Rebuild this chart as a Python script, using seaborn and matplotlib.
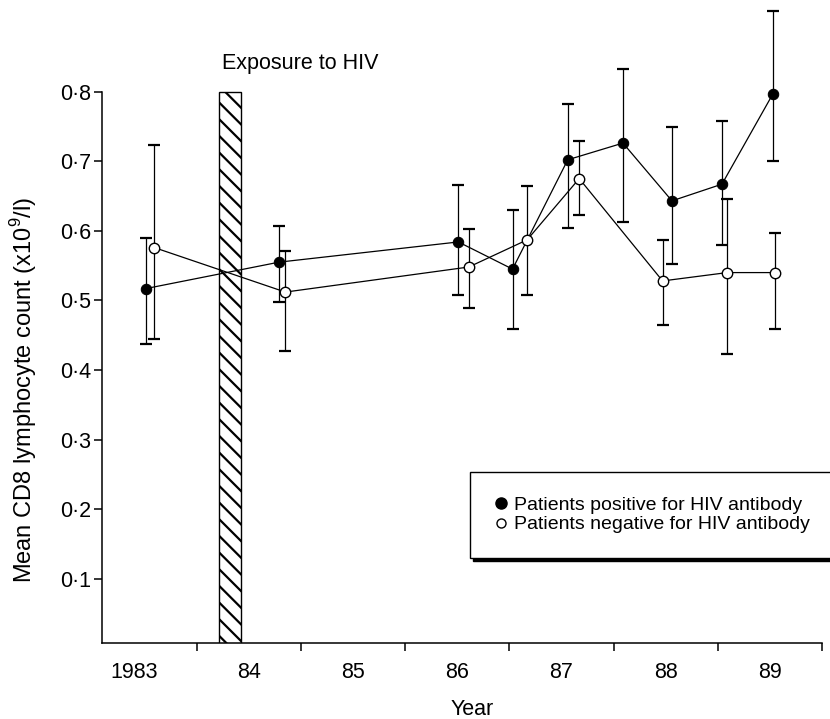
import pandas as pd
import seaborn as sns
import matplotlib.pyplot as plt
from matplotlib.lines import Line2D

# Values (year position, mean, error bar ends)
pos_year = [1983.51, 1984.79, 1986.51, 1987.03, 1987.56, 1988.09, 1988.56, 1989.04, 1989.53]
pos_mean = [0.517, 0.555, 0.584, 0.545, 0.702, 0.726, 0.643, 0.667, 0.797]
pos_low = [0.438, 0.498, 0.508, 0.459, 0.604, 0.613, 0.553, 0.580, 0.700]
pos_high = [0.590, 0.607, 0.666, 0.630, 0.782, 0.833, 0.749, 0.757, 0.915]

neg_year = [1983.59, 1984.85, 1986.61, 1987.17, 1987.67, 1988.47, 1989.09, 1989.55]
neg_mean = [0.576, 0.512, 0.548, 0.587, 0.675, 0.528, 0.540, 0.540]
neg_low = [0.445, 0.428, 0.489, 0.508, 0.623, 0.465, 0.423, 0.459]
neg_high = [0.723, 0.571, 0.603, 0.665, 0.729, 0.587, 0.646, 0.597]

year_ticks = [1984, 1985, 1986, 1987, 1988, 1989, 1990]
year_labels = ['1983', '84', '85', '86', '87', '88', '89']
year_label_pos = [1983.4, 1984.5, 1985.5, 1986.5, 1987.5, 1988.5, 1989.5]

y_ticks = [0.1, 0.2, 0.3, 0.4, 0.5, 0.6, 0.7, 0.8]
y_tick_labels = ['0·1', '0·2', '0·3', '0·4', '0·5', '0·6', '0·7', '0·8']

exposure_start = 1984.21
exposure_end = 1984.42
exposure_top = 0.8

pos_df = pd.DataFrame({'year': pos_year, 'mean': pos_mean})
neg_df = pd.DataFrame({'year': neg_year, 'mean': neg_mean})

sns.set_style('ticks')
plt.rcParams['font.family'] = ['Liberation Sans', 'DejaVu Sans']
plt.rcParams['mathtext.fontset'] = 'custom'
plt.rcParams['mathtext.rm'] = 'Liberation Sans'
plt.rcParams['hatch.linewidth'] = 1.6
plt.rcParams['text.color'] = 'black'
plt.rcParams['axes.labelcolor'] = 'black'
plt.rcParams['axes.edgecolor'] = 'black'
plt.rcParams['xtick.color'] = 'black'
plt.rcParams['ytick.color'] = 'black'

fig = plt.figure(figsize=(8.3, 7.19), dpi=100)
ax = fig.add_axes([102 / 830, 1 - 643 / 719, 720 / 830, 635 / 719])

# Exposure bar
ax.bar(
    exposure_start,
    exposure_top,
    width=exposure_end - exposure_start,
    align='edge',
    color='white',
    edgecolor='black',
    hatch='\\\\',
    linewidth=1,
    zorder=1
)

ax.text(
    exposure_start + 0.03,
    0.841,
    'Exposure to HIV',
    fontsize=15.5,
    va='center',
    ha='left'
)

# Error bars
for yr, m, lo, hi in [(pos_year, pos_mean, pos_low, pos_high),
                      (neg_year, neg_mean, neg_low, neg_high)]:
    ax.errorbar(
        yr,
        m,
        yerr=[[a - b for a, b in zip(m, lo)], [b - a for a, b in zip(m, hi)]],
        fmt='none',
        ecolor='black',
        elinewidth=0.9,
        capsize=4,
        capthick=1.6,
        zorder=2
    )

# Lines
sns.lineplot(
    data=pos_df,
    x='year',
    y='mean',
    color='black',
    linewidth=0.9,
    marker='o',
    markersize=7.5,
    markerfacecolor='black',
    markeredgecolor='black',
    estimator=None,
    sort=False,
    ax=ax,
    zorder=3
)

sns.lineplot(
    data=neg_df,
    x='year',
    y='mean',
    color='black',
    linewidth=0.9,
    marker='o',
    markersize=7.5,
    markerfacecolor='white',
    markeredgecolor='black',
    markeredgewidth=1,
    estimator=None,
    sort=False,
    ax=ax,
    zorder=4
)

ax.set_xlim(1983.09, 1990.0)
ax.set_ylim(0.008, 0.92)

ax.set_xticks(year_ticks)
ax.set_xticklabels([])
ax.set_xticks(year_label_pos, minor=True)
ax.set_xticklabels(year_labels, minor=True)
ax.tick_params(axis='x', which='major', length=6, width=1.1, direction='out')
ax.tick_params(axis='x', which='minor', length=0, pad=14, labelsize=15.5)

ax.set_yticks(y_ticks)
ax.set_yticklabels(y_tick_labels)
ax.tick_params(axis='y', length=6, width=1.1, pad=2, labelsize=15.5)

sns.despine(ax=ax)
ax.spines['left'].set_bounds(0.008, 0.8)
ax.spines['left'].set_linewidth(1.1)
ax.spines['bottom'].set_linewidth(1.1)

ax.set_xlabel('Year', fontsize=15.5)
ax.xaxis.set_label_coords(0.514, -0.088)
ax.set_ylabel(r'Mean CD8 lymphocyte count (x10$^{\mathrm{9}}$/l)', fontsize=17)
ax.yaxis.set_label_coords(-0.088, 0.398)

# Legend
handles = [
    Line2D([], [], linestyle='none', marker='o', markersize=8,
           markerfacecolor='black', markeredgecolor='black'),
    Line2D([], [], linestyle='none', marker='o', markersize=6.5,
           markerfacecolor='white', markeredgecolor='black')
]
leg = fig.legend(
    handles,
    ['Patients positive for HIV antibody', 'Patients negative for HIV antibody'],
    loc='upper left',
    bbox_to_anchor=(470 / 830, 1 - 472 / 719, 0.44, 0),
    mode='expand',
    borderaxespad=0,
    fontsize=14,
    frameon=True,
    fancybox=False,
    shadow={'color': 'black', 'alpha': 1},
    edgecolor='black',
    framealpha=1,
    handlelength=0.7,
    handletextpad=0.3,
    labelspacing=0.1,
    borderpad=1.25
)
leg.get_frame().set_linewidth(1)

plt.savefig('out.png', dpi=100)
